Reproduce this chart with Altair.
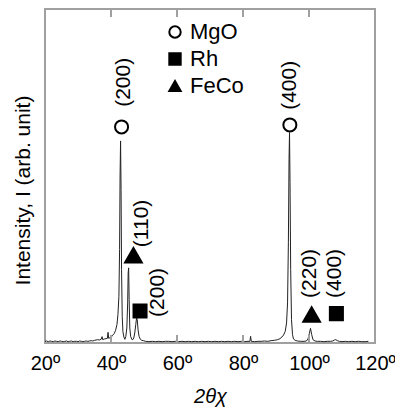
import altair as alt
import pandas as pd

# ---- XRD pattern (2theta in degrees, intensity in arbitrary units 0-100) ----
two_theta = [20.0, 20.5, 21.0, 21.5, 22.0, 22.5, 23.0, 23.5, 24.0, 24.5, 25.0, 25.5,
             26.0, 26.5, 27.0, 27.5, 28.0, 28.5, 29.0, 29.5, 30.0, 30.5, 31.0, 31.5,
             32.0, 32.5, 33.0, 33.5, 34.0, 34.5, 35.0, 35.5, 36.0, 36.5, 37.0, 37.3,
             37.5, 38.0, 38.5, 38.9, 39.1, 39.3, 39.7, 40.1, 40.5, 41.0, 41.4, 41.8,
             42.1, 42.4, 42.6, 42.75, 42.9, 43.05, 43.2, 43.4, 43.6, 43.9, 44.2, 44.5,
             44.8, 45.05, 45.2, 45.35, 45.5, 45.7, 45.95, 46.3, 46.6, 46.9, 47.2, 47.5,
             47.75, 47.95, 48.2, 48.5, 48.9, 49.3, 49.8, 50.5, 51.5, 52.5, 53.5, 54.5,
             55.5, 56.5, 57.5, 58.5, 59.5, 60.5, 61.5, 62.5, 63.5, 64.5, 65.5, 66.5,
             67.5, 68.5, 69.5, 70.5, 71.5, 72.5, 73.5, 74.5, 75.5, 76.5, 77.5, 78.5,
             79.5, 80.5, 81.5, 82.1, 82.3, 82.5, 83.5, 84.5, 85.5, 86.5, 87.5, 88.5,
             89.5, 90.5, 91.2, 91.8, 92.3, 92.8, 93.2, 93.5, 93.75, 93.95, 94.1, 94.25,
             94.45, 94.7, 95.0, 95.3, 95.8, 96.5, 97.5, 98.5, 99.2, 99.7, 100.1, 100.45,
             100.8, 101.2, 101.8, 102.5, 103.5, 104.5, 105.5, 106.5, 107.2, 107.7, 108.1,
             108.6, 109.2, 110.0, 111.0, 112.0, 113.0, 114.0, 115.0, 116.0, 117.0, 118.0]
intensity = [0.5, 0.6, 0.4, 0.6, 0.5, 0.4, 0.6, 0.5, 0.4, 0.6, 0.5, 0.4,
             0.5, 0.6, 0.4, 0.5, 0.6, 0.4, 0.5, 0.5, 0.4, 0.6, 0.5, 0.4,
             0.5, 0.6, 0.5, 0.6, 0.7, 0.6, 0.8, 0.9, 1.0, 0.9, 1.1, 1.9,
             1.0, 1.2, 1.3, 1.4, 3.2, 1.4, 1.6, 1.8, 2.3, 2.9, 3.8, 5.5,
             8.5, 14.0, 28.0, 50.0, 60.5, 46.0, 22.0, 8.0, 3.5, 1.8, 1.1, 2.0,
             4.5, 12.0, 21.0, 22.5, 13.0, 4.5, 2.0, 1.1, 1.0, 1.5, 3.0, 5.5,
             7.5, 7.0, 4.0, 2.0, 1.1, 0.8, 0.7, 0.5, 0.4, 0.5, 0.4, 0.5,
             0.4, 0.5, 0.5, 0.4, 0.5, 0.4, 0.5, 0.4, 0.5, 0.4, 0.5, 0.4,
             0.5, 0.4, 0.5, 0.4, 0.5, 0.4, 0.5, 0.4, 0.5, 0.4, 0.5, 0.4,
             0.5, 0.4, 0.5, 0.5, 2.0, 0.5, 0.4, 0.5, 0.5, 0.6, 0.5, 0.7,
             0.8, 1.0, 1.3, 1.8, 2.4, 3.5, 6.0, 12.0, 30.0, 55.0, 63.0, 48.0,
             22.0, 7.0, 2.5, 1.2, 0.8, 0.6, 0.5, 0.5, 0.6, 1.2, 2.8, 4.4,
             2.6, 1.0, 0.6, 0.5, 0.5, 0.4, 0.5, 0.5, 0.6, 0.9, 1.0,
             0.7, 0.5, 0.4, 0.5, 0.4, 0.5, 0.4, 0.5, 0.4, 0.4, 0.5]

# ---- peak markers ----
phases = ["MgO", "Rh", "FeCo"]
marker_phase = ["MgO", "MgO", "FeCo", "Rh", "FeCo", "Rh"]
marker_x = [43.2, 94.2, 46.8, 48.8, 100.8, 108.3]
marker_y = [64.7, 65.3, 26.3, 9.6, 8.5, 8.8]

# ---- peak labels (Miller indices) ----
label_text = ["(200)", "(400)", "(110)", "(200)", "(220)", "(400)"]
label_x = [43.9, 94.2, 49.4, 54.2, 100.3, 107.9]
label_y = [70.7, 69.8, 28.7, 7.8, 13.5, 13.5]

# ---- axis ticks ----
tick_values = [20, 40, 60, 80, 100, 120]
inner_ticks = [40, 60, 80, 100]

FONT = "Liberation Sans"
FRAME = "#a0a0a0"
W, H = 330, 334

spec_df = pd.DataFrame({"tt": two_theta, "I": intensity})
mark_df = pd.DataFrame({"phase": marker_phase, "tt": marker_x, "I": marker_y})
lab_df = pd.DataFrame({"text": label_text, "tt": label_x, "I": label_y})
tick_df = pd.DataFrame({"tt": inner_ticks})

xscale = alt.Scale(domain=[20, 120], nice=False, zero=False)
yscale = alt.Scale(domain=[0, 100], nice=False, zero=False)

xaxis = alt.Axis(values=tick_values, labelExpr="datum.value + 'º'", ticks=False, tickSize=0,
                 domain=False, grid=False, labelFontSize=20, labelFont=FONT,
                 labelColor="black", labelPadding=10, labelOverlap=False, labelFlush=False,
                 labelBound=False, title="2θχ", titleFont=FONT, titleFontSize=20,
                 titleFontStyle="italic", titleFontWeight="normal", titleColor="black",
                 titlePadding=13)
yaxis = alt.Axis(labels=False, ticks=False, domain=False, grid=False,
                 title="Intensity, I (arb. unit)", titleFont=FONT, titleFontSize=21,
                 titleFontWeight="normal", titleColor="black", titleX=-16, titleY=181,
                 titleBaseline="alphabetic", titleAngle=270)

line = alt.Chart(spec_df).mark_line(color="#222222", strokeWidth=1, interpolate="linear").encode(
    x=alt.X("tt:Q", scale=xscale, axis=xaxis),
    y=alt.Y("I:Q", scale=yscale, axis=yaxis),
    order="tt:Q",
)

frame = alt.Chart(tick_df).mark_rect(fill="transparent", stroke=FRAME, strokeWidth=2).encode(
    x=alt.value(0), x2=alt.value(W), y=alt.value(0), y2=alt.value(H)
)

top_ticks = alt.Chart(tick_df).mark_rule(color=FRAME, strokeWidth=2).encode(
    x=alt.X("tt:Q", scale=xscale), y=alt.value(0), y2=alt.value(8)
)
bottom_ticks = alt.Chart(tick_df).mark_rule(color=FRAME, strokeWidth=2).encode(
    x=alt.X("tt:Q", scale=xscale), y=alt.value(H - 8), y2=alt.value(H)
)

legend = alt.Legend(title=None, orient="none", legendX=119, legendY=12,
                    direction="vertical", labelFontSize=22, labelFont=FONT,
                    labelColor="black", symbolSize=130, symbolStrokeWidth=2,
                    rowPadding=5, labelOffset=4, padding=0)

points = alt.Chart(mark_df).mark_point(filled=True, strokeWidth=2, opacity=1).encode(
    x=alt.X("tt:Q", scale=xscale),
    y=alt.Y("I:Q", scale=yscale),
    shape=alt.Shape("phase:N", scale=alt.Scale(domain=phases, range=["circle", "square", "triangle-up"]),
                    legend=legend),
    fill=alt.Fill("phase:N", scale=alt.Scale(domain=phases, range=["white", "black", "black"]),
                  legend=legend),
    stroke=alt.Stroke("phase:N", scale=alt.Scale(domain=phases, range=["black", "black", "black"]),
                      legend=legend),
    size=alt.condition("datum.phase === 'FeCo'", alt.value(280), alt.value(170)),
)

labels = alt.Chart(lab_df).mark_text(angle=270, align="left", baseline="middle", fontSize=21,
                                     font=FONT, color="black").encode(
    x=alt.X("tt:Q", scale=xscale),
    y=alt.Y("I:Q", scale=yscale),
    text="text:N",
)

chart = alt.layer(frame, line, top_ticks, bottom_ticks, points, labels).properties(
    width=W, height=H,
    autosize=alt.AutoSizeParams(type="none"),
    padding={"left": 37, "top": 1, "right": 20, "bottom": 64},
    background="white",
).configure_view(stroke=FRAME, strokeWidth=2)

chart.save("out.html", embed_options={"renderer": "svg", "actions": False})
